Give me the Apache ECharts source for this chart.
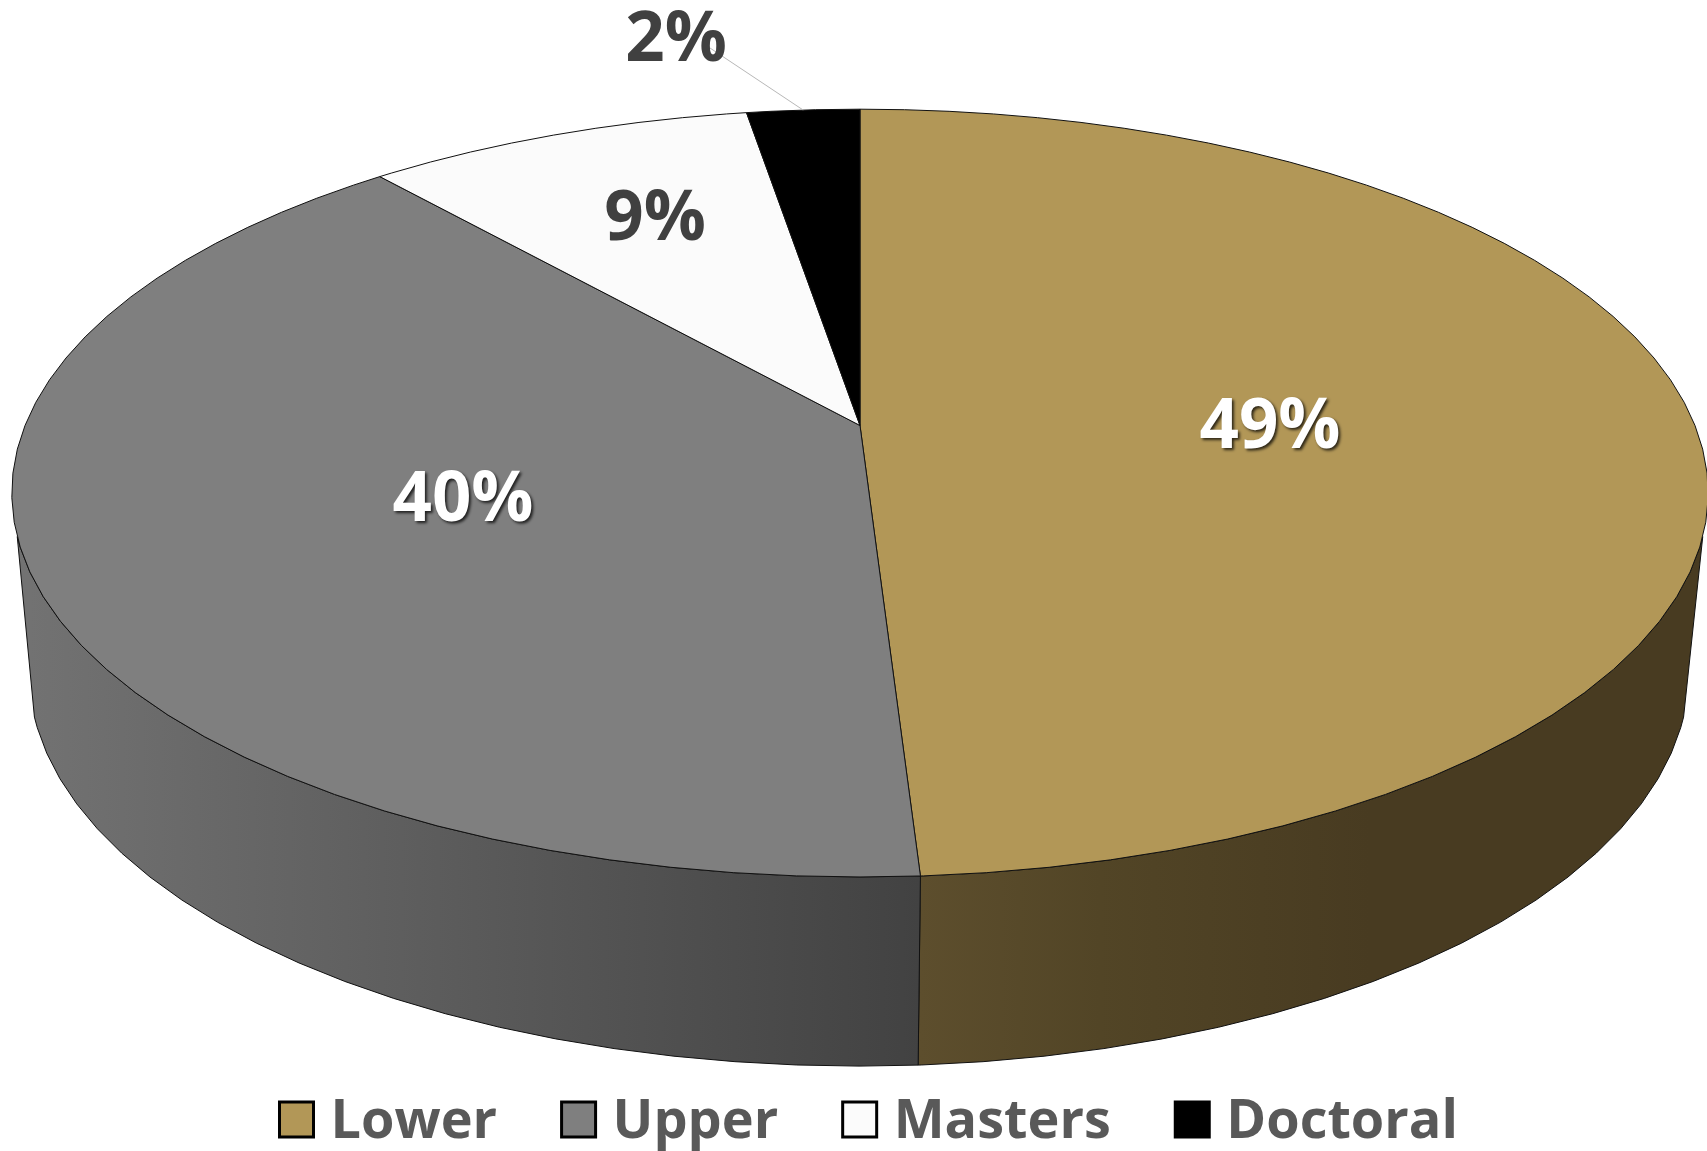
<!DOCTYPE html>
<html>
<head>
<meta charset="utf-8">
<title>Degree level</title>
<script src="https://cdn.jsdelivr.net/npm/echarts@6/dist/echarts.min.js"></script>
<style>
  html, body { margin: 0; padding: 0; background: #fff; }
  #chart { width: 1707px; height: 1151px; }
</style>
</head>
<body>
<div id="chart"></div>
<script>
  // data
  const categories = ['Lower', 'Upper', 'Masters', 'Doctoral'];
  const shares = [49.05, 39.65, 8.75, 2.55];
  const shareLabels = ['49%', '40%', '9%', '2%'];

  // look of each slice
  const topColors = ['#b29757', '#7f7f7f', '#fbfbfb', '#000000'];
  const wallStops = [
    [[0, '#5d4e2d'], [0.4, '#524526'], [1, '#483b21']],
    [[0, '#727272'], [1, '#424242']],
    null,
    null
  ];
  const wallGradientX = [[920, 1370], [30, 920], null, null];
  const labelPos = [[1270, 428], [463, 501], [655, 220], [676, 41]];
  const labelColors = ['#ffffff', '#ffffff', '#404040', '#404040'];

  // perspective discs, k is the foreshortening of the far side
  const topDisc = { cx: 860, cy: 425.5, rx: 835, ry: 372, k: 0.176 };
  const bottomDisc = { cx: 859, cy: 603, rx: 817, ry: 381.6, k: 0.176 };
  const nearFrom = 106.5, nearTo = 253.5;   // visible part of the side wall, degrees clockwise from top
  const step = 3.6;

  function project(disc, deg) {
    const a = deg * Math.PI / 180;
    const X = Math.sin(a), Y = Math.cos(a);
    const w = 1 + disc.k * Y;
    return [disc.cx + disc.rx * X / w, disc.cy - disc.ry * Y / w];
  }

  function arcAngles(from, to) {
    const list = [from];
    let d = (Math.floor(from / step) + 1) * step;
    while (d < to - 0.01) {
      list.push(d);
      d += step;
    }
    list.push(to);
    return list;
  }

  const total = shares.reduce((s, v) => s + v, 0);
  const starts = [];
  shares.reduce((s, v, i) => { starts[i] = s; return s + v; }, 0);

  function renderSlice(i) {
    return function (params, api) {
      const from = starts[i] / total * 360;
      const to = from + api.value(0) / total * 360;
      const children = [];

      const wallFrom = Math.max(from, nearFrom), wallTo = Math.min(to, nearTo);
      if (wallStops[i] && wallFrom < wallTo) {
        const angles = arcAngles(wallFrom, wallTo);
        const upper = angles.map(d => project(topDisc, d));
        const lower = angles.map(d => project(bottomDisc, d)).reverse();
        const gx = wallGradientX[i];
        children.push({
          type: 'polygon',
          z2: 1,
          shape: { points: upper.concat(lower) },
          style: {
            fill: new echarts.graphic.LinearGradient(gx[0], 0, gx[1], 0,
              wallStops[i].map(s => ({ offset: s[0], color: s[1] })), true),
            stroke: '#111',
            lineWidth: 1,
            lineJoin: 'round'
          }
        });
      }

      const rim = arcAngles(from, to).map(d => project(topDisc, d));
      children.push({
        type: 'polygon',
        z2: 5,
        shape: { points: [[topDisc.cx, topDisc.cy]].concat(rim) },
        style: { fill: topColors[i], stroke: '#111', lineWidth: 1, lineJoin: 'round' }
      });

      // only the doctoral slice has its label outside
      if (categories[i] === 'Doctoral') {
        const end = project(topDisc, (from + to) / 2);
        children.push({
          type: 'line',
          z2: 8,
          shape: { x1: 710, y1: 48, x2: end[0], y2: end[1] },
          style: { stroke: '#b8b8b8', lineWidth: 1 }
        });
      }

      const white = labelColors[i] === '#ffffff';
      children.push({
        type: 'text',
        z2: 10,
        style: {
          x: labelPos[i][0],
          y: labelPos[i][1],
          text: shareLabels[i],
          fill: labelColors[i],
          align: 'center',
          verticalAlign: 'middle',
          font: 'bold 69px "Open Sans"',
          textShadowColor: white ? 'rgba(0,0,0,0.75)' : 'transparent',
          textShadowBlur: white ? 3 : 0,
          textShadowOffsetX: white ? 2 : 0,
          textShadowOffsetY: white ? 2 : 0
        }
      });

      return { type: 'group', children: children };
    };
  }

  const chart = echarts.init(document.getElementById('chart'));
  chart.setOption({
    animation: false,
    backgroundColor: '#fff',
    legend: {
      left: 278,
      top: 1096,
      padding: 0,
      itemGap: 63,
      itemWidth: 34,
      itemHeight: 35,
      icon: 'rect',
      selectedMode: false,
      data: categories.map((name, i) => ({
        name: name,
        itemStyle: { color: topColors[i], borderColor: '#000', borderWidth: 3 }
      })),
      formatter: '{t|{name}}',
      textStyle: {
        rich: {
          t: {
            fontFamily: 'Open Sans',
            fontWeight: 'bold',
            fontSize: 54,
            color: '#595959',
            padding: [7, 0, 0, 12]
          }
        }
      }
    },
    series: categories.map((name, i) => ({
      type: 'custom',
      name: name,
      coordinateSystem: 'none',
      itemStyle: { color: topColors[i] },
      renderItem: renderSlice(i),
      data: [[shares[i]]]
    }))
  });
</script>
</body>
</html>
